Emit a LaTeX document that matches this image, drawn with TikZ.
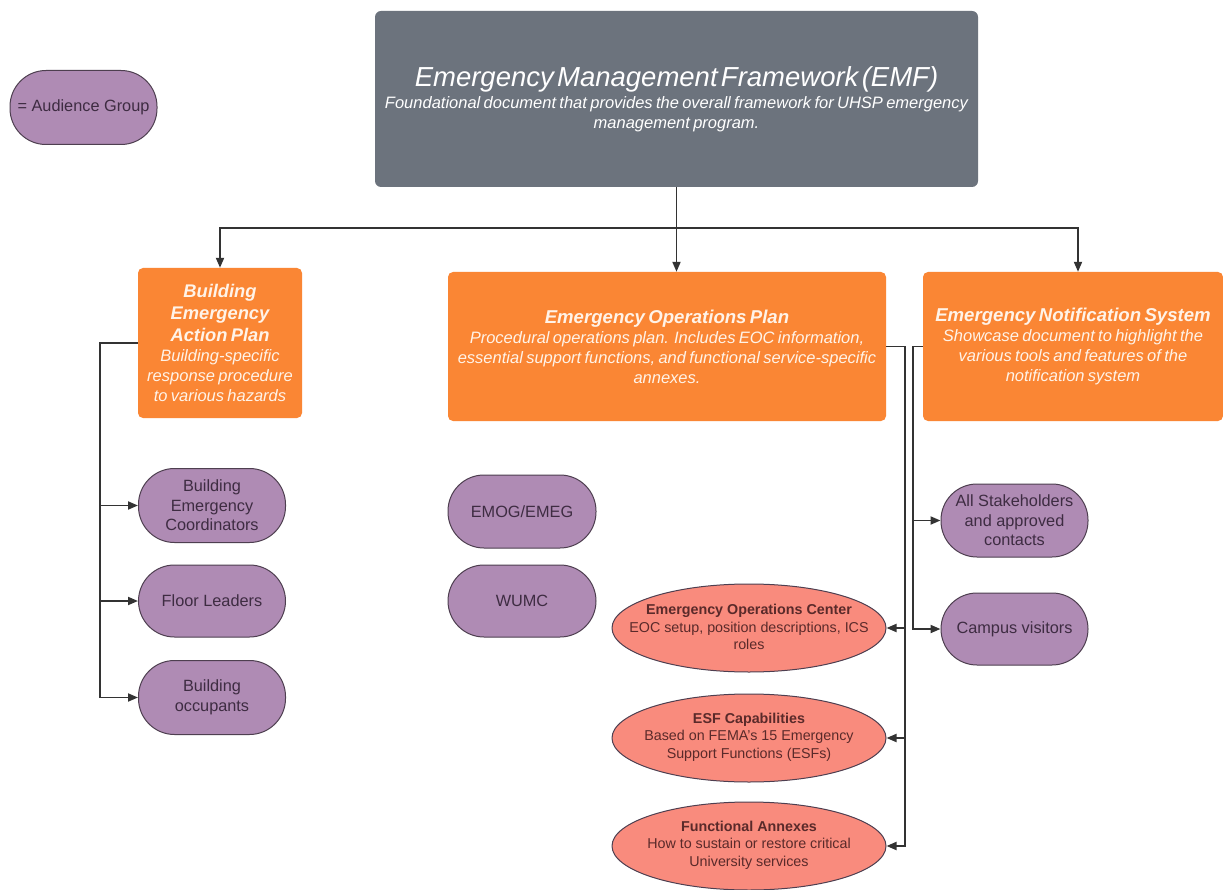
\documentclass[tikz,border=0pt]{standalone}
\usepackage{fontspec}
\setmainfont{Liberation Sans}
\usetikzlibrary{shapes.geometric,arrows.meta,calc}
\definecolor{emfgrey}{HTML}{6C737D}
\definecolor{planorange}{HTML}{FA8634}
\definecolor{audpurple}{HTML}{AF8BB4}
\definecolor{audborder}{HTML}{4E3F50}
\definecolor{audtext}{HTML}{3E2C42}
\definecolor{salmon}{HTML}{F98B7D}
\definecolor{salmontext}{HTML}{5A2A2A}
\definecolor{lighttext}{HTML}{FFF3E8}
\definecolor{linecol}{HTML}{333333}
\newcommand{\fsz}[2]{\fontsize{#1}{#2}\selectfont}
\tikzset{
  pill/.style={draw=audborder, line width=1pt, fill=audpurple, rounded corners=36pt,
    minimum width=147pt, minimum height=74pt, inner sep=0pt, align=center,
    text=audtext, font=\fsz{16.3}{19.5}},
  planbox/.style={fill=planorange, rounded corners=5pt, inner sep=0pt, align=center,
    text=lighttext},
  oval/.style={ellipse, draw=audborder, line width=1pt, fill=salmon, minimum width=274pt,
    minimum height=88pt, inner sep=0pt},
  ovaltext/.style={align=center, text=salmontext, font=\fsz{14.3}{17.5}, inner sep=0pt},
  arr/.style={draw=linecol, line width=1.9pt, -{Triangle[length=10pt,width=8pt]}},
  ln/.style={draw=linecol, line width=1.9pt}
}
\begin{document}
\begin{tikzpicture}[x=1pt,y=-1pt]
\useasboundingbox[fill=white] (0,0) rectangle (1223,890);
% legend
\node[pill] (legend) at (83.5,107.5) {= Audience Group};
% EMF
\node[fill=emfgrey, rounded corners=6pt, minimum width=603pt, minimum height=176pt,
  inner sep=0pt, align=center, text=white, text width=600pt] (emf) at (676.5,99)
  {{\fsz{27.5}{30}\itshape Emergency Management Framework (EMF)\par}\vspace{3pt}
   {\fsz{16.5}{19.5}\itshape Foundational document that provides the overall framework for UHSP emergency\\ management program.\par}};
% plans
\node[planbox, minimum width=164pt, minimum height=150pt, text width=160pt] (beap) at (220,343)
  {{\fsz{18.3}{22}\bfseries\itshape Building\\ Emergency\\ Action Plan\par}
   {\fsz{16.5}{20}\itshape Building-specific\\ response procedure\\ to various hazards\par}};
\node[planbox, minimum width=438pt, minimum height=149pt, text width=434pt] (eop) at (667,346.5)
  {{\fsz{18.6}{21}\bfseries\itshape Emergency Operations Plan\par}
   {\fsz{16.5}{20}\itshape Procedural operations plan. Includes EOC information,\\ essential support functions, and functional service-specific\\ annexes.\par}};
\node[planbox, minimum width=300pt, minimum height=149pt, text width=296pt] (ens) at (1073,346.5)
  {{\fsz{18.6}{22}\bfseries\itshape Emergency Notification System\par}
   {\fsz{16.5}{20}\itshape Showcase document to highlight the\\ various tools and features of the\\ notification system\par}};
% audience groups
\node[pill] (bec) at (212,505.5) {Building\\ Emergency\\ Coordinators};
\node[pill, minimum height=72pt] (fl) at (212,601) {Floor Leaders};
\node[pill] (occ) at (212,697.5) {Building\\ occupants};
\node[pill, minimum width=148pt, minimum height=73pt] (emog) at (522,511.5) {EMOG/EMEG};
\node[pill, minimum width=148pt, minimum height=72pt] (wumc) at (522,601) {WUMC};
\node[pill, minimum height=73pt] (all) at (1014.5,520.5) {All Stakeholders\\ and approved\\ contacts};
\node[pill, minimum height=72pt] (cv) at (1014.5,629) {Campus visitors};
% EOP components
\node[oval] (eoc) at (749,628) {};
\node[ovaltext] (eoct) at (749,627) {{\bfseries Emergency Operations Center}\\ EOC setup, position descriptions, ICS\\ roles};
\node[oval] (esf) at (749,738) {};
\node[ovaltext] (esft) at (749,737) {{\bfseries ESF Capabilities}\\ Based on FEMA's 15 Emergency\\ Support Functions (ESFs)};
\node[oval] (fa) at (749,846) {};
\node[ovaltext] (fat) at (749,845) {{\bfseries Functional Annexes}\\ How to sustain or restore critical\\ University services};
% top connectors
\draw[ln] (emf.south) -- ++(0,41) coordinate (j);
\draw[arr] (j) -| (beap.north);
\draw[arr] (j) -- (j |- eop.north);
\draw[arr] (j) -| ([xshift=5pt]ens.north);
% left connectors
\draw[arr] (beap.west) -- ++(-38,0) |- (bec.west);
\draw[arr] (beap.west) -- ++(-38,0) |- (fl.west);
\draw[arr] (beap.west) -- ++(-38,0) |- (occ.west);
% EOP connectors
\draw[arr] (eop.east) -- ++(19,0) |- (eoc.east);
\draw[arr] (eop.east) -- ++(19,0) |- (esf.east);
\draw[arr] (eop.east) -- ++(19,0) |- (fa.east);
% ENS connectors
\draw[arr] (ens.west) -- ++(-10,0) |- (all.west);
\draw[arr] (ens.west) -- ++(-10,0) |- (cv.west);
\end{tikzpicture}
\end{document}
